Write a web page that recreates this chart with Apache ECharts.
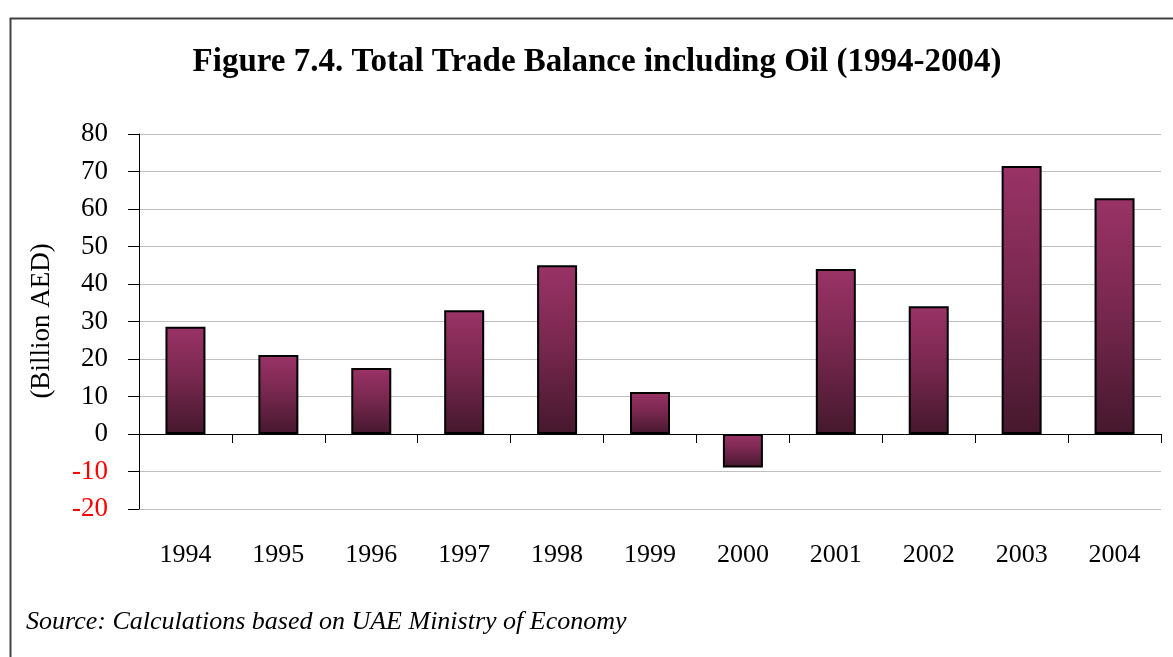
<!DOCTYPE html>
<html>
<head>
<meta charset="utf-8">
<script src="https://cdn.jsdelivr.net/npm/echarts@6/dist/echarts.min.js"></script>
<style>
html,body{margin:0;padding:0;background:#fff;}
#chart{width:1173px;height:657px;}
</style>
</head>
<body>
<div id="chart"></div>
<script type="text/javascript">
	var years = ['1994','1995','1996','1997','1998','1999','2000','2001','2002','2003','2004'];
	var balance = [28.6, 21.1, 17.6, 33.0, 45.0, 11.2, -8.9, 44.0, 34.1, 71.5, 62.9];
	var yTicks = [-20, -10, 0, 10, 20, 30, 40, 50, 60, 70, 80];

	var serif = '"Liberation Serif", "DejaVu Serif", serif';
	var myChart = echarts.init(document.getElementById('chart'));

	var barFill = new echarts.graphic.LinearGradient(0, 0, 0, 1, [
		{offset: 0, color: '#9a3366'},
		{offset: 0.45, color: '#7a2850'},
		{offset: 1, color: '#45182d'}
	]);

	var option = {
		backgroundColor: '#fff',
		animation: false,
		graphic: [
			// frame round the figure (runs off the right and bottom edge)
			{type: 'rect', left: 8, top: 16, shape: {x: 0, y: 0, width: 1200, height: 700},
				style: {fill: 'none', stroke: '#404040', lineWidth: 2}, silent: true},
			{type: 'text', x: 597, y: 62,
				style: {text: 'Figure 7.4. Total Trade Balance including Oil (1994-2004)', fill: '#000',
					font: 'bold 33px ' + serif, align: 'center', verticalAlign: 'middle'}},
			{type: 'text', x: 42, y: 321, rotation: Math.PI / 2,
				style: {text: '(Billion AED)', fill: '#000', font: '27px ' + serif,
					align: 'center', verticalAlign: 'middle'}},
			{type: 'text', x: 26, y: 622,
				style: {text: 'Source: Calculations based on UAE Ministry of Economy', fill: '#000',
					font: 'italic 26px ' + serif, align: 'left', verticalAlign: 'middle'}}
		],
		grid: {left: 139, right: 12, top: 134, bottom: 148},
		xAxis: [
			{   // labels sit at the bottom of the plot
				type: 'category',
				data: years,
				position: 'bottom',
				axisLine: {onZero: false, show: false},
				axisTick: {show: false},
				axisLabel: {color: '#000', fontFamily: serif, fontSize: 26, margin: 33, interval: 0},
				splitLine: {show: false}
			},
			{   // axis line + ticks on zero
				type: 'category',
				data: years,
				position: 'bottom',
				axisLine: {onZero: true, show: true, lineStyle: {color: '#000', width: 1}},
				axisTick: {show: true, length: 9, lineStyle: {color: '#000'}},
				axisLabel: {show: false},
				splitLine: {show: false}
			}
		],
		yAxis: [
			{
				type: 'value',
				min: yTicks[0],
				max: yTicks[yTicks.length - 1],
				interval: 10,
				axisLine: {show: true, lineStyle: {color: '#000', width: 1}},
				axisTick: {show: true, length: 11, lineStyle: {color: '#000'}},
				axisLabel: {
					fontFamily: serif, fontSize: 27, margin: 31,
					color: function (v) { return v < 0 ? '#ff0000' : '#000'; }
				},
				splitLine: {show: true, lineStyle: {color: '#c0c0c0', width: 1}}
			}
		],
		series: [
			{
				name: 'Trade balance',
				type: 'bar',
				xAxisIndex: 0,
				barWidth: 40,
				data: balance,
				itemStyle: {color: barFill, borderColor: '#000', borderWidth: 2}
			}
		]
	};
	myChart.setOption(option);
</script>
</body>
</html>
